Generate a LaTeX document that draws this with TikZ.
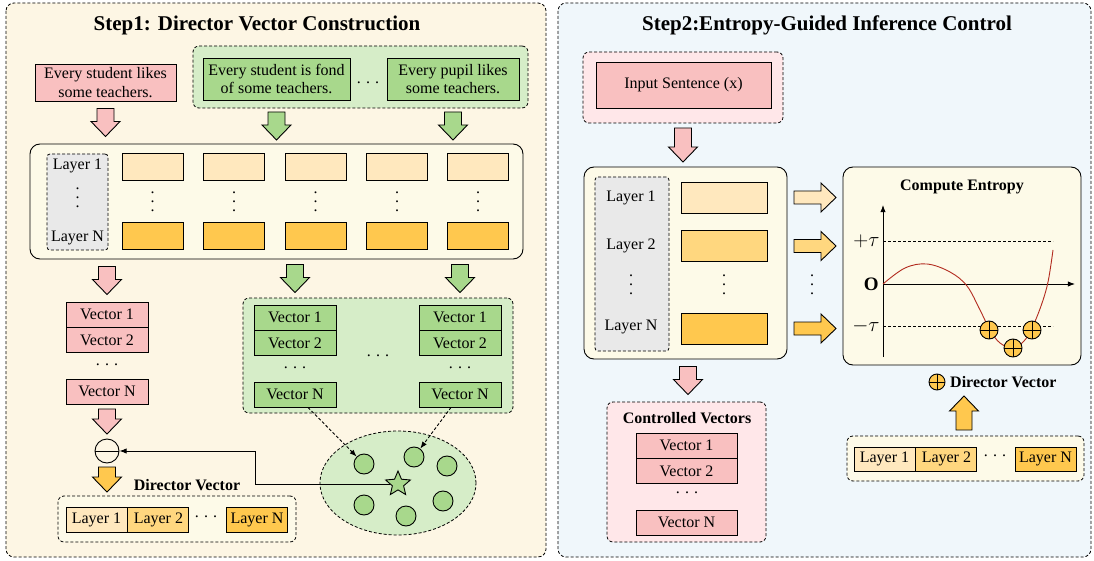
\documentclass[tikz,border=0pt]{standalone}
\usepackage{fontspec}
\setmainfont{Liberation Serif}
\usepackage{amsmath}
\usetikzlibrary{arrows.meta,shapes.geometric,positioning,calc}

\definecolor{creamA}{HTML}{FDF6E4}
\definecolor{creamB}{HTML}{FDFAE8}
\definecolor{blueA}{HTML}{F0F7FB}
\definecolor{pinkS}{HTML}{F9C0C0}
\definecolor{pinkL}{HTML}{FFE7E9}
\definecolor{greenS}{HTML}{A8D88C}
\definecolor{greenL}{HTML}{D6EDC8}
\definecolor{orangeL}{HTML}{FFE8BE}
\definecolor{orangeM}{HTML}{FFD77F}
\definecolor{orangeS}{HTML}{FFC84E}
\definecolor{grayL}{HTML}{E9E9E9}
\definecolor{curveR}{HTML}{B22B1F}

% spaced dots, wider than \vdots and \cdots
\newcommand{\vdotsB}{\vbox{\baselineskip=9pt\lineskiplimit=0pt\hbox{.}\hbox{.}\hbox{.}}}
\newcommand{\hdotsB}{\raisebox{0.22em}{.\hspace{0.32em}.\hspace{0.32em}.}}

\tikzset{
  >=Latex,
  diag/.style={font=\fontsize{16}{18.5}\selectfont, line width=0.9pt},
  panel/.style={draw, dash pattern=on 3pt off 2pt, rounded corners=8pt, line width=0.8pt},
  group/.style={draw, dash pattern=on 3pt off 2pt, rounded corners=6pt, line width=0.8pt},
  bigbox/.style={draw, rounded corners=10pt, fill=creamB},
  graybox/.style={draw, dash pattern=on 3pt off 2pt, rounded corners=3pt, fill=grayL, line width=0.8pt},
  sentbox/.style={draw, align=center, inner sep=2pt},
  vecbox/.style={draw, minimum width=82pt, minimum height=25pt, inner sep=0pt},
  cell/.style={draw, minimum width=61pt, minimum height=27pt, inner sep=0pt},
  laycell/.style={draw, minimum width=61pt, minimum height=25pt, inner sep=0pt},
  dots/.style={inner sep=0pt},
  dot/.style={circle, draw, fill=greenS, minimum size=20pt, inner sep=0pt},
  oplus/.style={circle, draw, fill=orangeS, minimum size=18pt, inner sep=0pt,
    path picture={\draw (path picture bounding box.north) -- (path picture bounding box.south)
      (path picture bounding box.west) -- (path picture bounding box.east);}},
  ominus/.style={circle, draw, minimum size=24pt, inner sep=0pt,
    path picture={\draw (path picture bounding box.west) -- (path picture bounding box.east);}},
  title/.style={font=\fontsize{21}{24}\selectfont\bfseries},
  head/.style={font=\fontsize{16}{18.5}\selectfont\bfseries},
  pics/fatarrow/.style args={#1/#2}{code={
    \path[pic actions] (-#2,-#1/2) -- (#2,-#1/2) -- (#2,#1/2-15) -- (14.5,#1/2-15)
      -- (0,#1/2) -- (-14.5,#1/2-15) -- (-#2,#1/2-15) -- cycle;
  }}
}

\begin{document}
\begin{tikzpicture}[diag, x=1pt, y=-1pt]
\useasboundingbox (0,0) rectangle (1094,561);

% panels
\draw[panel, fill=creamA] (6,3) rectangle (546,557);
\draw[panel, fill=blueA] (558,3) rectangle (1091,557);
\node[title] (titleA) at (257,25) {Step1: Director Vector Construction};
\node[title] (titleB) at (827,25) {Step2:Entropy-Guided Inference Control};

% 1 : sentences
\node[sentbox, fill=pinkS, minimum width=141pt, minimum height=37pt] (sentA) at (105.5,82.5) {Every student likes\\some teachers.};
\node[group, fill=greenL, minimum width=335pt, minimum height=62pt] (grpA) at (360.5,77) {};
\node[sentbox, fill=greenS, minimum width=147pt, minimum height=42pt] (sentB) at (276.5,79) {Every student is fond\\of some teachers.};
\node[dots] (dotsA) at (368,84) {\hdotsB};
\node[sentbox, fill=greenS, minimum width=132pt, minimum height=42pt] (sentC) at (453,79) {Every pupil likes\\some teachers.};

% 2 : hidden states of every sentence
\node[bigbox, minimum width=493pt, minimum height=115pt] (stackA) at (276.5,201.5) {};
\node[graybox, minimum width=61pt, minimum height=96pt] (namesA) at (77.5,202) {};
\node (lay1A) at (77.5,166) {Layer 1};
\node[dots] (layvA) at (77.5,198) {\vdotsB};
\node (layNA) at (77.5,238) {Layer N};
\node[cell, fill=orangeL] (t1) at (152.5,167) {};
\node[cell, fill=orangeL] (t2) at (234,167) {};
\node[cell, fill=orangeL] (t3) at (315.5,167) {};
\node[cell, fill=orangeL] (t4) at (397,167) {};
\node[cell, fill=orangeL] (t5) at (478,167) {};
\node[cell, fill=orangeS] (b1) at (152.5,236) {};
\node[cell, fill=orangeS] (b2) at (234,236) {};
\node[cell, fill=orangeS] (b3) at (315.5,236) {};
\node[cell, fill=orangeS] (b4) at (397,236) {};
\node[cell, fill=orangeS] (b5) at (478,236) {};
\node[dots] (v1) at ($(t1)!.5!(b1)$) {\vdotsB};
\node[dots] (v2) at ($(t2)!.5!(b2)$) {\vdotsB};
\node[dots] (v3) at ($(t3)!.5!(b3)$) {\vdotsB};
\node[dots] (v4) at ($(t4)!.5!(b4)$) {\vdotsB};
\node[dots] (v5) at ($(t5)!.5!(b5)$) {\vdotsB};

\pic[draw, fill=pinkS] at ($(sentA.south)!.5!(sentA.south |- stackA.north)$) {fatarrow=28/8.5};
\pic[draw, fill=greenS] at ($(sentB.south |- grpA.south)!.5!(sentB.south |- stackA.north)$) {fatarrow=28/8.5};
\pic[draw, fill=greenS] at ($(sentC.south |- grpA.south)!.5!(sentC.south |- stackA.north)$) {fatarrow=28/8.5};

% 3 : vectors of the plain sentence
\node[vecbox, fill=pinkS] (va1) at (107,314.5) {Vector 1};
\node[vecbox, fill=pinkS, below=0pt of va1] (va2) {Vector 2};
\node[dots] (vadots) at (107,366) {\hdotsB};
\node[vecbox, fill=pinkS] (vaN) at (107,391.5) {Vector N};

% 4 : vectors of the paraphrases
\node[group, fill=greenL, minimum width=270pt, minimum height=115pt] (grpB) at (378,355.5) {};
\node[vecbox, fill=greenS] (lv1) at (295,317.5) {Vector 1};
\node[vecbox, fill=greenS, below=0pt of lv1] (lv2) {Vector 2};
\node[dots] (lvdots) at (295,369) {\hdotsB};
\node[vecbox, fill=greenS] (lvN) at (295,394.5) {Vector N};
\node[dots] (middots) at (378,357) {\hdotsB};
\node[vecbox, fill=greenS] (rv1) at (460,317.5) {Vector 1};
\node[vecbox, fill=greenS, below=0pt of rv1] (rv2) {Vector 2};
\node[dots] (rvdots) at (460,369) {\hdotsB};
\node[vecbox, fill=greenS] (rvN) at (460,394.5) {Vector N};

\pic[draw, fill=pinkS] at ($(va1.north |- stackA.south)!.5!(va1.north)$) {fatarrow=28/8.5};
\pic[draw, fill=greenS] at ($(lv1.north |- stackA.south)!.5!(lv1.north |- grpB.north)$) {fatarrow=28/8.5};
\pic[draw, fill=greenS] at ($(rv1.north |- stackA.south)!.5!(rv1.north |- grpB.north)$) {fatarrow=28/8.5};

% 5 : cluster of paraphrase vectors
\node[ellipse, draw, dash pattern=on 3pt off 2pt, line width=0.8pt, fill=greenL, minimum width=156pt, minimum height=104pt] (clust) at (398,483) {};
\node[dot] (c1) at (364,464) {};
\node[dot] (c2) at (414,457) {};
\node[dot] (c3) at (447,466) {};
\node[dot] (c4) at (364,505) {};
\node[dot] (c5) at (406,516) {};
\node[dot] (c6) at (443,501) {};
\node[star, star points=5, star point ratio=2.2, draw, fill=greenS, minimum size=26pt, inner sep=0pt] (centre) at (398,484) {};
\draw[->, dash pattern=on 3pt off 2pt] ([xshift=13pt]lvN.south) -- (c1);
\draw[->, dash pattern=on 3pt off 2pt] ([xshift=-9pt]rvN.south) -- (c2);

% 6 : difference -> director vector
\node[ominus] (diff) at (107,451) {};
\pic[draw, fill=pinkS] at ($(vaN.south)!.5!(diff.north)$) {fatarrow=25/8.5};
\draw[->] (centre) -- ++(-143,0) |- (diff.east);
\node[group, fill=creamB, minimum width=238pt, minimum height=46pt] (dvA) at (177,519) {};
\pic[draw, fill=orangeS] at ($(diff.south)!.5!(diff.south |- dvA.north)$) {fatarrow=25/8.5};
\node[head] (dvlabA) at (187,485) {Director Vector};
\node[laycell, fill=orangeL] (da1) at (96.5,519.5) {Layer 1};
\node[laycell, fill=orangeM, right=0pt of da1] (da2) {Layer 2};
\node[dots] (dadots) at (206,518) {\hdotsB};
\node[laycell, fill=orangeS] (daN) at (257,519.5) {Layer N};

% 7 : input sentence
\node[group, fill=pinkL, minimum width=200pt, minimum height=71pt] (inGrp) at (683,87.5) {};
\node[sentbox, fill=pinkS, minimum width=175pt, minimum height=46pt] (input) at (683.5,85) {Input Sentence (x)};

% 8 : layers of the model
\node[bigbox, minimum width=203pt, minimum height=192pt] (stackB) at (685.5,263) {};
\node[graybox, minimum width=74pt, minimum height=174pt] (namesB) at (632,264) {};
\node (lay1B) at (631,198) {Layer 1};
\node (lay2B) at (631,246) {Layer 2};
\node[dots] (layvB) at (631,285) {\vdotsB};
\node (layNB) at (631,327) {Layer N};
\node[draw, minimum width=86pt, minimum height=31pt, fill=orangeL] (r1) at (724,197.5) {};
\node[draw, minimum width=86pt, minimum height=31pt, fill=orangeM] (r2) at (724,246) {};
\node[dots] (rdots) at (724,285) {\vdotsB};
\node[draw, minimum width=86pt, minimum height=31pt, fill=orangeS] (r3) at (724,328.5) {};
\pic[draw, fill=pinkS] at ($(inGrp.south)!.5!(inGrp.south |- stackB.north)$) {fatarrow=34/8.5};

% 9 : entropy plot
\node[bigbox, minimum width=238pt, minimum height=198pt] (ent) at (962,266) {};
\node[head] (entT) at (962,187) {Compute Entropy};
\coordinate (org) at (883,284);
\draw[->] (883,357) -- (883,205);
\draw[->] (org) -- (1075,284);
\node[anchor=east, inner sep=1pt, font=\fontsize{19}{20}\selectfont\bfseries] (zero) at (880,284) {O};
\node[anchor=east, inner sep=1pt, font=\fontsize{20}{21}\selectfont] (ptau) at (881,241) {$+\tau$};
\node[anchor=east, inner sep=1pt, font=\fontsize{20}{21}\selectfont] (mtau) at (881,326) {$-\tau$};
\draw[dash pattern=on 3pt off 2pt, line width=0.7pt] (883,241) -- (1053,241);
\draw[dash pattern=on 3pt off 2pt, line width=0.7pt] (883,326) -- (1053,326);
\draw[curveR, line width=0.9pt] plot[smooth, tension=0.6] coordinates {(883,284) (905,268) (927,264) (950,272) (967,286) (980,310) (990,330) (1000,343) (1013,348) (1024,341) (1032,328) (1041,306) (1048,282) (1053,250)};
\node[oplus] (m1) at (989,330) {};
\node[oplus] (m2) at (1013,348) {};
\node[oplus] (m3) at (1032,330) {};

\pic[draw, fill=orangeL, rotate=90] at ($(r1 -| stackB.east)!.5!(r1 -| ent.west)$) {fatarrow=42/6.5};
\pic[draw, fill=orangeM, rotate=90] at ($(r2 -| stackB.east)!.5!(r2 -| ent.west)$) {fatarrow=42/6.5};
\node[dots] (adots) at (812,285) {\vdotsB};
\pic[draw, fill=orangeS, rotate=90] at ($(r3 -| stackB.east)!.5!(r3 -| ent.west)$) {fatarrow=42/6.5};

% 10 : director vector added back
\node[oplus, minimum size=16pt] (lgd) at (937,382) {};
\node[head, right=1pt of lgd] (lgdT) {Director Vector};
\node[group, fill=creamB, minimum width=237pt, minimum height=45pt] (dvB) at (965.5,458.5) {};
\node[laycell, minimum height=24pt, fill=orangeL] (db1) at (884.5,459) {Layer 1};
\node[laycell, minimum height=24pt, fill=orangeM, right=0pt of db1] (db2) {Layer 2};
\node[dots] (dbdots) at (995,457) {\hdotsB};
\node[laycell, minimum height=24pt, fill=orangeS] (dbN) at (1045.5,459) {Layer N};
\pic[draw, fill=orangeS, rotate=180] at ($(lgd.south -| 964,0)!.5!(dvB.north -| 964,0)$) {fatarrow=34/8};

% 11 : controlled vectors
\node[group, fill=pinkL, minimum width=159pt, minimum height=140pt] (ctrl) at (686.5,472) {};
\node[head] (ctrlT) at (687,418) {Controlled Vectors};
\node[vecbox, minimum width=101pt, fill=pinkS] (cv1) at (686.5,445.5) {Vector 1};
\node[vecbox, minimum width=101pt, fill=pinkS, below=0pt of cv1] (cv2) {Vector 2};
\node[dots] (cvdots) at (687,494) {\hdotsB};
\node[vecbox, minimum width=101pt, fill=pinkS] (cvN) at (686.5,522.5) {Vector N};
\pic[draw, fill=pinkS] at ($(stackB.south -| 688,0)!.5!(ctrl.north -| 688,0)$) {fatarrow=28/8.5};

\end{tikzpicture}
\end{document}
